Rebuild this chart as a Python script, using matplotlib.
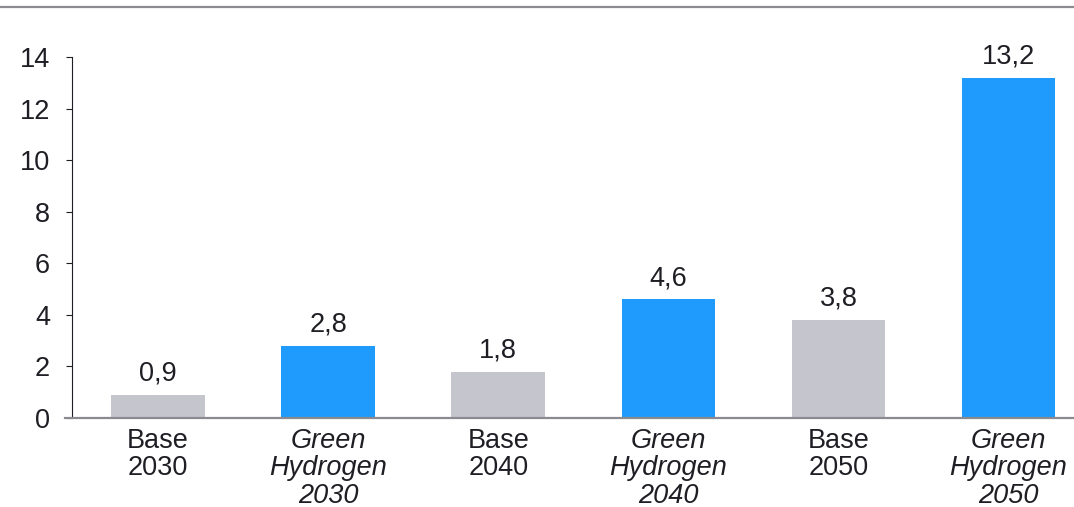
import matplotlib
matplotlib.use("Agg")
import matplotlib.pyplot as plt
from matplotlib.lines import Line2D

plt.rcParams['font.family'] = ['Liberation Sans', 'DejaVu Sans']

categories = ["Base\n2030", "Green\nHydrogen\n2030", "Base\n2040",
              "Green\nHydrogen\n2040", "Base\n2050", "Green\nHydrogen\n2050"]
values = [0.9, 2.8, 1.8, 4.6, 3.8, 13.2]
is_green = [False, True, False, True, False, True]
yticks = [0, 2, 4, 6, 8, 10, 12, 14]

gray = "#c5c5ce"
blue = "#1e9bfc"
text_col = "#1e1e24"
line_col = "#8a8a90"
fs = 19.5

fig = plt.figure(figsize=(10.74, 5.07), dpi=100)
ax = fig.add_axes([72 / 1074, 89 / 507, 1 - 72 / 1074, 361 / 507])

x = range(len(values))
colors = [blue if g else gray for g in is_green]
ax.bar(x, values, width=0.55, color=colors)

for xi, v in zip(x, values):
    ax.annotate(f"{v:.1f}".replace(".", ","), (xi, v), xytext=(0, 6),
                textcoords="offset points", ha="center", va="bottom",
                fontsize=fs, color=text_col)

ax.set_xlim(-0.506, 5.385)
ax.set_ylim(0, 14)
ax.set_yticks(yticks)
ax.set_yticklabels([str(t) for t in yticks])
ax.set_xticks(list(x))
ax.set_xticklabels(categories, linespacing=1.07)
for lbl, g in zip(ax.get_xticklabels(), is_green):
    if g:
        lbl.set_fontstyle("italic")

ax.tick_params(axis="y", length=4.3, width=0.8, color=text_col, pad=11.5,
               labelsize=fs, labelcolor=text_col)
ax.tick_params(axis="x", length=0, pad=7, labelsize=fs, labelcolor=text_col)

for s in ["top", "right", "bottom"]:
    ax.spines[s].set_visible(False)
ax.spines["left"].set_color(text_col)
ax.spines["left"].set_linewidth(0.8)

# baseline running past the y axis
fig.add_artist(Line2D([65 / 1074, 1], [89 / 507, 89 / 507], color=line_col,
                      lw=1.6, transform=fig.transFigure))
# thin rule at the top
fig.add_artist(Line2D([0, 1], [1 - 7 / 507, 1 - 7 / 507], color=line_col,
                      lw=1.6, transform=fig.transFigure))

fig.savefig("out.png", dpi=100)
